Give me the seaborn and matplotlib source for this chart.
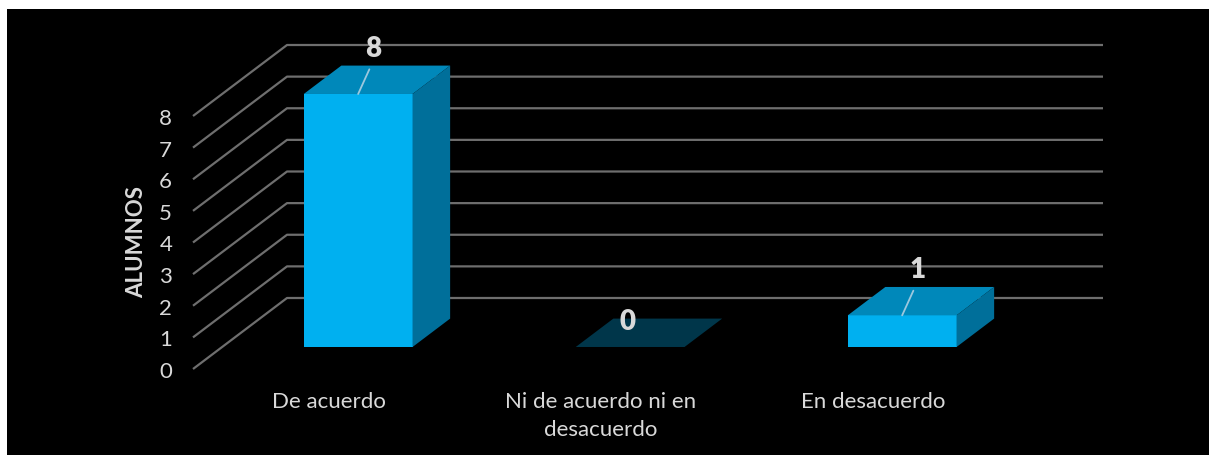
import matplotlib
matplotlib.use("Agg")
import matplotlib.pyplot as plt
from matplotlib.patches import Polygon, Rectangle
from matplotlib.transforms import Affine2D
import seaborn as sns
import pandas as pd

# Survey answers and number of students
categories = ["De acuerdo", "Ni de acuerdo ni en desacuerdo", "En desacuerdo"]
tick_labels = ["De acuerdo", "Ni de acuerdo ni en\ndesacuerdo", "En desacuerdo"]
alumnos = [8, 0, 1]
y_ticks = [0, 1, 2, 3, 4, 5, 6, 7, 8]

# Colours
FRONT = "#00B0F0"
TOP = "#0088BA"
SIDE = "#006F9A"
ZERO_TOP = "#00364A"
GRID = "#6E6E6E"
TEXT = "#D9D9D9"
LEADER = "#9CC8DE"

# Oblique projection of the depth axis (full depth, in data units)
DX, DY = 0.3456, 2.245
D0, D1 = 0.31, 0.71   # front / back of the bars as a fraction of full depth
BAR_W = 0.4

sns.set_theme(style="white")
plt.rcParams["font.family"] = ["Lato", "DejaVu Sans"]

W, H = 1209, 456
fig = plt.figure(figsize=(W / 100, H / 100), dpi=100, facecolor="white")
fig.patches.append(Rectangle((7 / W, 0), 1, (H - 10) / H, transform=fig.transFigure,
                             facecolor="black", edgecolor="none", zorder=-10))

ax = fig.add_axes([193 / W, 86 / H, 816 / W, 253 / H])
ax.set_facecolor("none")

df = pd.DataFrame({"respuesta": categories, "alumnos": alumnos})
sns.barplot(data=df, x="respuesta", y="alumnos", color=FRONT, saturation=1,
            width=BAR_W, ax=ax, zorder=3)

ax.set_xlim(-0.5, 2.5)
ax.set_ylim(0, 8)

# gridlines: left wall diagonal + back wall horizontal
for k in y_ticks:
    ax.plot([-0.5, -0.5 + DX, 2.5 + DX], [k, k + DY, k + DY], color=GRID,
            lw=1.6, clip_on=False, zorder=1, solid_capstyle="butt")

# push the bars back to their depth and add the top / side faces
shift = Affine2D().translate(D0 * DX, D0 * DY) + ax.transData
dep = D1 - D0
for patch, v in zip(ax.patches, alumnos):
    patch.set_transform(shift)
    patch.set_clip_on(False)
    patch.set_edgecolor("none")
    xl = patch.get_x()
    xr = xl + patch.get_width()
    top = Polygon([(xl, v), (xr, v), (xr + dep * DX, v + dep * DY), (xl + dep * DX, v + dep * DY)],
                  closed=True, facecolor=TOP if v > 0 else ZERO_TOP, edgecolor="none",
                  transform=shift, clip_on=False, zorder=3)
    ax.add_patch(top)
    if v > 0:
        side = Polygon([(xr, 0), (xr, v), (xr + dep * DX, v + dep * DY), (xr + dep * DX, dep * DY)],
                       closed=True, facecolor=SIDE, edgecolor="none",
                       transform=shift, clip_on=False, zorder=3)
        ax.add_patch(side)
    cx = (xl + xr) / 2
    if v > 0:
        ax.annotate(str(v), xy=(cx, v), xycoords=shift, xytext=(15, 46),
                    textcoords="offset pixels", ha="center", va="center",
                    fontsize=20, fontweight="heavy", color=TEXT, zorder=5,
                    arrowprops=dict(arrowstyle="-", color=LEADER, lw=1.3,
                                    shrinkA=4, shrinkB=0, relpos=(0.5, 0)))
    else:
        ax.annotate(str(v), xy=(cx, v), xycoords=shift, xytext=(-3, 26),
                    textcoords="offset pixels", ha="center", va="center",
                    fontsize=20, fontweight="heavy", color=TEXT, zorder=5)

# axes decoration
for s in ax.spines.values():
    s.set_visible(False)
ax.set_yticks(y_ticks)
ax.set_yticklabels([str(t) for t in y_ticks])
ax.set_xticks(range(len(categories)))
ax.set_xticklabels(tick_labels, linespacing=1.5)
ax.tick_params(axis="y", length=0, pad=15, labelsize=16, labelcolor=TEXT)
ax.tick_params(axis="x", length=0, pad=16, labelsize=16, labelcolor=TEXT)
ax.set_xlabel("")
ax.set_ylabel("ALUMNOS", fontsize=16, fontweight="bold", color=TEXT)
ax.yaxis.set_label_coords(-(193 - 147) / 816, (370 - 242) / 253)

fig.savefig("out.png", dpi=100, facecolor=fig.get_facecolor())
